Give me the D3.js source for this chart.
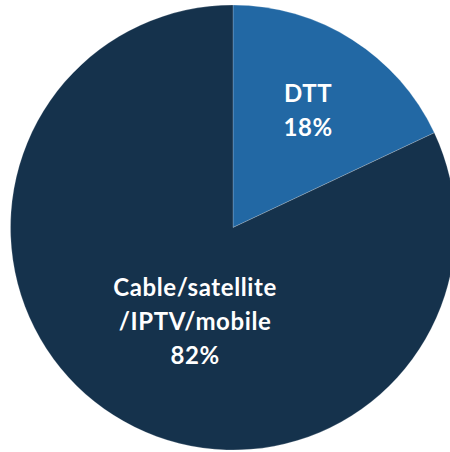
<!DOCTYPE html>
<html>
<head>
<meta charset="utf-8">
<script src="https://cdn.jsdelivr.net/npm/d3@7"></script>
<style>
  html, body { margin: 0; padding: 0; background: #ffffff; }
  svg { display: block; }
</style>
</head>
<body>
<svg id="chart" width="450" height="452"></svg>
<script>
// Share of TV reception by platform
const categories = ["DTT", "Cable/satellite\n/IPTV/mobile"];
const values = [18, 82];
const colors = ["#2268a4", "#15324c"];
// Label placement per slice: angle (degrees, clockwise from 12 o'clock) and radial fraction
const labelAngles = [32.7, 202];
const labelRadii = [0.625, 0.455];

const width = 450, height = 452;
const cx = 233, cy = 227.5, radius = 222.5;

const svg = d3.select("#chart");
const g = svg.append("g").attr("transform", `translate(${cx},${cy})`);

const pie = d3.pie().sort(null).value(d => d)(values);
const arc = d3.arc().innerRadius(0).outerRadius(radius);

g.selectAll("path.slice")
  .data(pie)
  .join("path")
  .attr("class", "slice")
  .attr("d", arc)
  .attr("fill", (d, i) => colors[i])
  .attr("stroke", "rgba(255,255,255,0.35)")
  .attr("stroke-width", 0.6);

const lineH = 34;
g.selectAll("text.label")
  .data(pie)
  .join("text")
  .attr("class", "label")
  .attr("text-anchor", "middle")
  .attr("fill", "#ffffff")
  .style("font-family", "Lato, 'Open Sans', sans-serif")
  .style("font-weight", "700")
  .style("font-size", "24px")
  .style("letter-spacing", "0.6px")
  .each(function(d, i) {
    const a = labelAngles[i] * Math.PI / 180;
    const r = radius * labelRadii[i];
    const x = r * Math.sin(a), y = -r * Math.cos(a);
    const lines = categories[i].split("\n").concat([values[i] + "%"]);
    const top = y - (lines.length - 1) * lineH / 2;
    const t = d3.select(this);
    lines.forEach((ln, k) => {
      t.append("tspan")
        .attr("x", x)
        .attr("y", top + k * lineH)
        .attr("dy", "0.35em")
        .text(ln);
    });
  });
</script>
</body>
</html>
